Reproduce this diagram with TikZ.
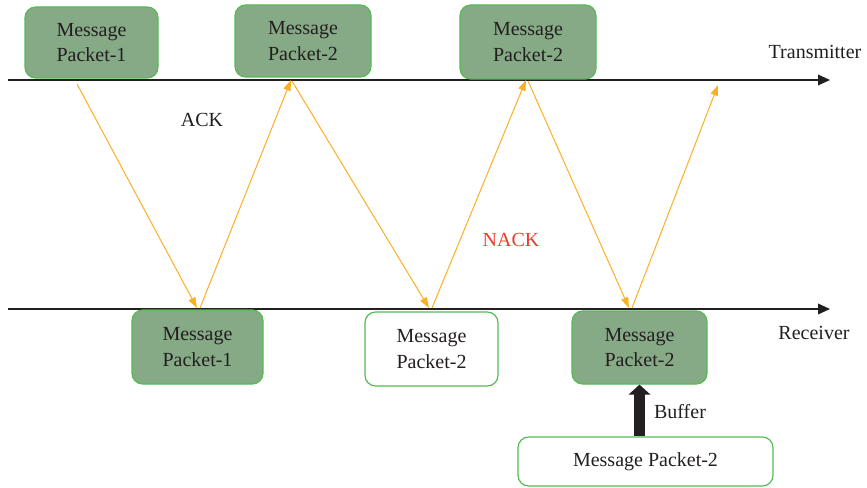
\documentclass[tikz,border=0pt]{standalone}
\usepackage{fontspec}
\setmainfont{Liberation Serif}
\usetikzlibrary{arrows.meta}
\definecolor{boxfill}{HTML}{86A986}
\definecolor{boxdraw}{HTML}{55BB55}
\definecolor{sig}{HTML}{FBB024}
\definecolor{ink}{HTML}{231F20}
\definecolor{nackred}{HTML}{EE3B2E}
\tikzset{
  pkt/.style={draw=boxdraw, line width=0.9pt, rounded corners=8pt, align=center,
    font=\fontsize{15}{19}\selectfont, text=ink, inner sep=0pt},
  pktfull/.style={pkt, fill=boxfill},
  pktempty/.style={pkt, fill=white},
  axis/.style={draw=ink, line width=1pt, -{Triangle[length=9pt,width=8pt]}},
  msg/.style={draw=sig, line width=0.75pt, -{Triangle[length=8pt,width=5.5pt]}},
  lbl/.style={font=\fontsize{15}{19}\selectfont, text=ink, inner sep=0pt},
}
\begin{document}
\begin{tikzpicture}[x=0.75pt,y=-0.75pt]
\useasboundingbox (0,0) rectangle (867,488);
% time axes
\coordinate (tx0) at (8,80);
\coordinate (tx1) at (830,80);
\coordinate (rx0) at (8,309);
\coordinate (rx1) at (830,309);
\draw[axis] (tx0) -- (tx1);
\draw[axis] (rx0) -- (rx1);
% transmitter packets
\node[pktfull, minimum width=133*0.75pt, minimum height=71*0.75pt] (T1) at (91.5,42.5) {Message\\Packet-1};
\node[pktfull, minimum width=136*0.75pt, minimum height=72*0.75pt] (T2) at (303,41) {Message\\Packet-2};
\node[pktfull, minimum width=136*0.75pt, minimum height=74*0.75pt] (T3) at (528,42) {Message\\Packet-2};
% receiver packets
\node[pktfull, minimum width=131*0.75pt, minimum height=74*0.75pt] (R1) at (197.5,347) {Message\\Packet-1};
\node[pktempty, minimum width=133*0.75pt, minimum height=74*0.75pt] (R2) at (431.5,349) {Message\\Packet-2};
\node[pktfull, minimum width=135*0.75pt, minimum height=73*0.75pt] (R3) at (639.5,347.5) {Message\\Packet-2};
\node[pktempty, minimum width=255*0.75pt, minimum height=49*0.75pt] (B) at (645.5,461.5) {Message Packet-2};
% labels
\node[lbl] (ltx) at (815,52) {Transmitter};
\node[lbl] (lrx) at (814,333) {Receiver};
\node[lbl] (ack) at (202,120) {ACK};
\node[lbl, text=nackred] (nack) at (511,240) {NACK};
\node[lbl] (buf) at (680,412) {Buffer};
% signal end points
\coordinate (a0) at (77,84);
\coordinate (a1) at (197,308);
\coordinate (b0) at (200,308);
\coordinate (b1) at (291,80);
\coordinate (c0) at (292,81);
\coordinate (c1) at (429,308);
\coordinate (d0) at (432,308);
\coordinate (d1) at (526,80);
\coordinate (e0) at (528,81);
\coordinate (e1) at (629,308);
\coordinate (f0) at (632,308);
\coordinate (f1) at (718,85);
\draw[msg] (a0) -- (a1);
\draw[msg] (b0) -- (b1);
\draw[msg] (c0) -- (c1);
\draw[msg] (d0) -- (d1);
\draw[msg] (e0) -- (e1);
\draw[msg] (f0) -- (f1);
% buffer arrow
\draw[draw=ink, line width=8pt, -{Triangle[length=7.5pt,width=16pt]}] (B.north -| R3.south) -- (R3.south);
\end{tikzpicture}
\end{document}
